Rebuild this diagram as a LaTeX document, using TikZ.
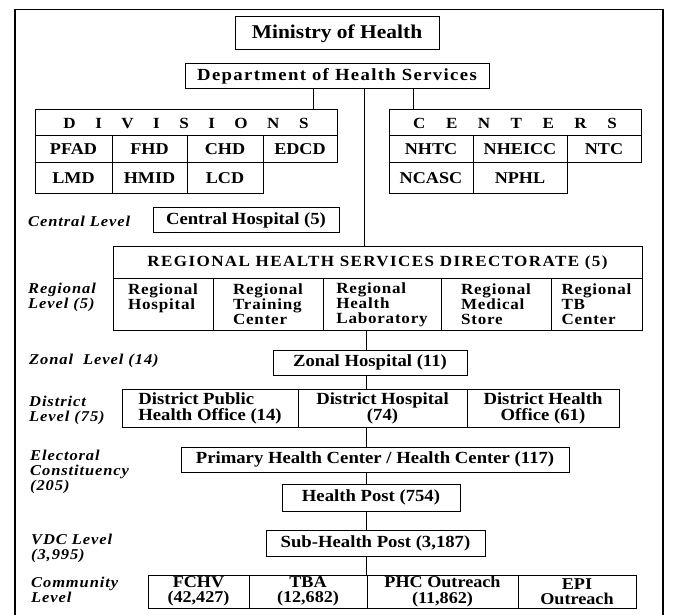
\documentclass[tikz,border=0pt]{standalone}
\usepackage{fontspec}
\setmainfont{Liberation Serif}[FakeStretch=1.1]
\newcommand{\boxfont}{\fontsize{17}{16}\selectfont\bfseries}
\newcommand{\cellfont}{\fontsize{16.5}{15.5}\selectfont\bfseries}
\newcommand{\spacedfont}{\fontsize{17}{16}\selectfont\bfseries\addfontfeature{LetterSpace=8}}
\newcommand{\regfont}{\fontsize{15.5}{15}\selectfont\bfseries\addfontfeature{LetterSpace=5}}
\newcommand{\levelfont}{\fontsize{15}{15}\selectfont\bfseries\itshape\addfontfeature{LetterSpace=6}}
\tikzset{
  box/.style={draw, line width=1pt, inner sep=0pt, font=\boxfont},
  cell/.style={box, align=center, font=\cellfont},
  regcell/.style={box, align=left, font=\regfont},
  level/.style={anchor=west, align=left, inner sep=0pt, font=\levelfont},
  link/.style={line width=1pt},
}
\begin{document}
\begin{tikzpicture}[x=1pt, y=-1pt]
	\useasboundingbox (0,0) rectangle (673,615);
	% Outer frame
	\draw[line width=1.3pt] (15,615) |- (663,9.5) -- (663,615);

	% Ministry and department
	\node[box, minimum width=204pt, minimum height=33pt, font=\fontsize{19.5}{19}\selectfont\bfseries] (ministry) at (337,33.5) {Ministry of Health};
	\node[box, minimum width=304pt, minimum height=25pt, font=\spacedfont] (dept) at (337,76.5) {Department of Health Services};

	% Divisions
	\node[cell, minimum width=302pt, minimum height=26pt, font=\fontsize{15.5}{15}\selectfont\bfseries] (divhead) at (186,123) {\spaceskip=19.5pt D I V I S I O N S};
	\node[cell, minimum width=77pt, minimum height=27pt] (pfad) at (73.5,149.5) {PFAD};
	\node[cell, minimum width=75pt, minimum height=27pt] (fhd) at (149.5,149.5) {FHD};
	\node[cell, minimum width=76pt, minimum height=27pt] (chd) at (225,149.5) {CHD};
	\node[cell, minimum width=74pt, minimum height=27pt] (edcd) at (300,149.5) {EDCD};
	\node[cell, minimum width=77pt, minimum height=31pt] (lmd) at (73.5,178.5) {LMD};
	\node[cell, minimum width=75pt, minimum height=31pt] (hmid) at (149.5,178.5) {HMID};
	\node[cell, minimum width=76pt, minimum height=31pt] (lcd) at (225,178.5) {LCD};

	% Centers
	\node[cell, minimum width=252pt, minimum height=26pt, font=\fontsize{15.5}{15}\selectfont\bfseries] (cenhead) at (515,123) {\spaceskip=20.5pt C E N T E R S};
	\node[cell, minimum width=84pt, minimum height=27pt] (nhtc) at (431,149.5) {NHTC};
	\node[cell, minimum width=94pt, minimum height=27pt] (nheicc) at (520,149.5) {NHEICC};
	\node[cell, minimum width=74pt, minimum height=27pt] (ntc) at (604,149.5) {NTC};
	\node[cell, minimum width=84pt, minimum height=31pt] (ncasc) at (431,178.5) {NCASC};
	\node[cell, minimum width=94pt, minimum height=31pt] (nphl) at (520,178.5) {NPHL};

	% Central level
	\node[level] (lvcentral) at (28,221) {Central Level};
	\node[box, minimum width=186pt, minimum height=25pt] (central) at (246,220.5) {Central Hospital (5)};

	% Regional level
	\node[level] (lvregional) at (28,297) {Regional\\Level (5)};
	\node[box, minimum width=529pt, minimum height=32pt, font=\fontsize{15.5}{15}\selectfont\bfseries\addfontfeature{LetterSpace=9}] (rhsd) at (377.5,263) {REGIONAL HEALTH SERVICES DIRECTORATE (5)};
	\node[regcell, minimum width=100pt, minimum height=51pt] (rhosp) at (163,304.5) {Regional\\Hospital\\\mbox{}};
	\node[regcell, minimum width=110pt, minimum height=51pt] (rtrain) at (268,304.5) {Regional\\Training\\Center};
	\node[regcell, minimum width=118pt, minimum height=51pt] (rlab) at (382,304.5) {Regional\\Health\\Laboratory};
	\node[regcell, minimum width=110pt, minimum height=51pt] (rstore) at (496,304.5) {Regional\\Medical\\Store};
	\node[regcell, minimum width=91pt, minimum height=51pt] (rtb) at (596.5,304.5) {Regional\\TB\\Center};

	% Zonal level
	\node[level] (lvzonal) at (29,361) {Zonal\ \ Level (14)};
	\node[box, minimum width=194pt, minimum height=25pt] (zonal) at (370,362.5) {Zonal Hospital (11)};

	% District level
	\node[level] (lvdistrict) at (29,410) {District\\Level (75)};
	\node[box, align=left, minimum width=176pt, minimum height=38pt] (dpho) at (210,408) {District Public\\Health Office (14)};
	\node[box, align=center, minimum width=169pt, minimum height=38pt] (dhosp) at (382.5,408) {District Hospital\\(74)};
	\node[box, align=center, minimum width=152pt, minimum height=38pt] (dho) at (543,408) {District Health\\Office (61)};

	% Electoral constituency
	\node[level] (lvelect) at (30,472) {Electoral\\Constituency\\(205)};
	\node[box, minimum width=388pt, minimum height=25pt] (phc) at (375,459.5) {Primary Health Center / Health Center (117)};
	\node[box, minimum width=178pt, minimum height=27pt] (hpost) at (371,497.5) {Health Post (754)};

	% VDC level
	\node[level] (lvvdc) at (31,548) {VDC Level\\(3,995)};
	\node[box, minimum width=219pt, minimum height=26pt] (shpost) at (375.5,543) {Sub-Health Post (3,187)};

	% Community level
	\node[level] (lvcommunity) at (31,590) {Community\\Level};
	\node[cell, minimum width=101pt, minimum height=33pt] (fchv) at (198.5,591.5) {FCHV\\(42,427)};
	\node[cell, minimum width=118pt, minimum height=33pt] (tba) at (308,591.5) {TBA\\(12,682)};
	\node[cell, minimum width=151pt, minimum height=33pt] (phcout) at (442.5,591.5) {PHC Outreach\\(11,862)};
	\node[cell, minimum width=118pt, minimum height=33pt] (epiout) at (577,591.5) {EPI\\Outreach};

	% Connectors
	\coordinate (divtap) at (313,0);
	\coordinate (centap) at (413,0);
	\coordinate (trunk) at (364,0);
	\coordinate (spine) at (366,0);
	\draw[link] (dept.south -| divtap) -- (divtap |- divhead.north);
	\draw[link] (dept.south -| centap) -- (centap |- cenhead.north);
	\draw[link] (dept.south -| trunk) -- (trunk |- rhsd.north);
	\draw[link] (spine |- rlab.south) -- (spine |- zonal.north);
	\draw[link] (spine |- zonal.south) -- (spine |- dhosp.north);
	\draw[link] (spine |- dhosp.south) -- (spine |- phc.north);
	\draw[link] (spine |- phc.south) -- (spine |- hpost.north);
	\draw[link] (spine |- hpost.south) -- (spine |- shpost.north);
	\draw[link] (spine |- shpost.south) -- (spine |- tba.north);
\end{tikzpicture}
\end{document}
